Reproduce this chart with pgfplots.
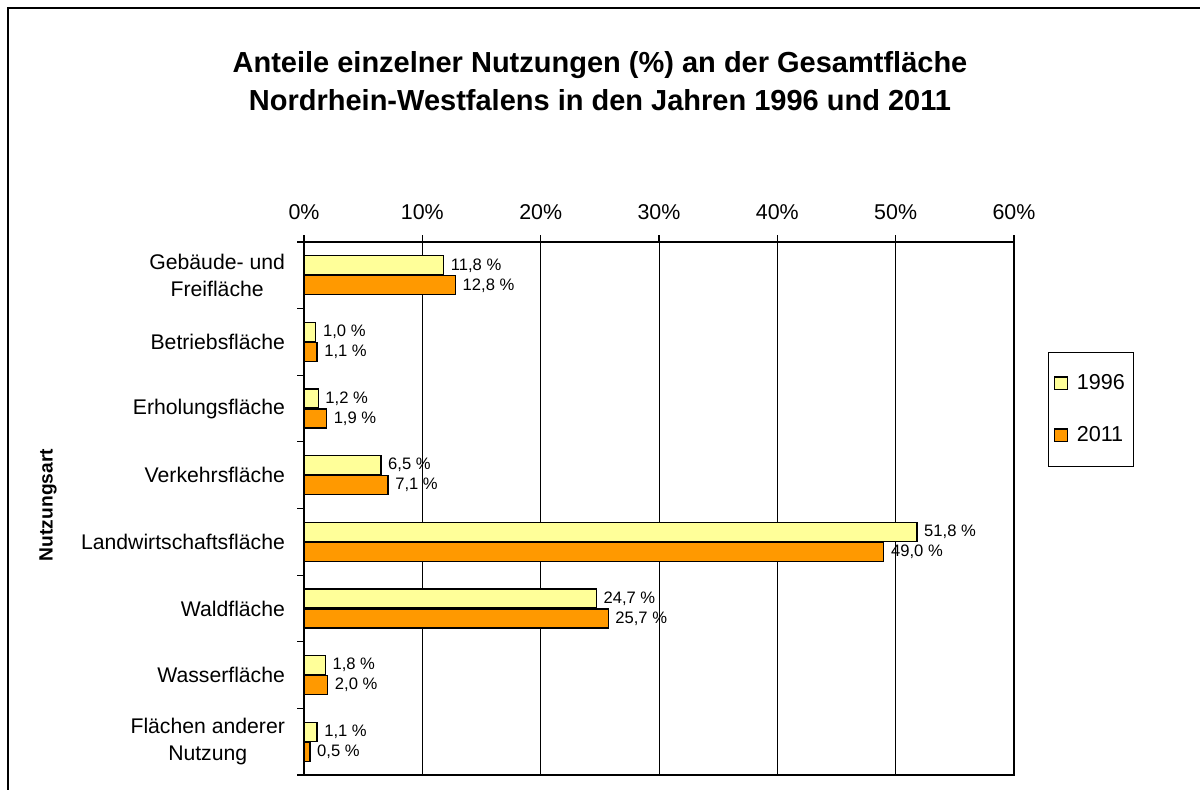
\documentclass[border=0pt]{standalone}
\usepackage{fontspec}
\setmainfont{Liberation Sans}
\usepackage{pgfplots}
\pgfplotsset{compat=1.18}
\definecolor{cA}{HTML}{FFFF99}
\definecolor{cB}{HTML}{FF9900}

\begin{document}
\begin{tikzpicture}
\useasboundingbox (0,0) rectangle (600pt,394.5pt);
\draw[line width=1pt] (4pt,-10pt) -- (4pt,390.5pt) -- (610pt,390.5pt);
\node[font=\bfseries\fontsize{14.5}{19}\selectfont, align=center] at (300pt,354pt) {Anteile einzelner Nutzungen (\%) an der Gesamtfläche\\Nordrhein-Westfalens in den Jahren 1996 und 2011};
\node[rotate=90, font=\bfseries\fontsize{9.6}{11}\selectfont] at (24pt,142pt) {Nutzungsart};
\begin{axis}[
  at={(152pt,7pt)}, anchor=south west,
  scale only axis, width=355pt, height=266.5pt,
  xbar, bar width=9.5pt,
  xmin=0, xmax=60, ymin=-0.5, ymax=7.5,
  clip=false,
  /pgf/number format/assume math mode=true,
  xtick={0,10,...,60},
  xtick pos=upper, xticklabel pos=upper,
  xticklabel={\pgfmathprintnumber{\tick}\%},
  xticklabel style={font=\fontsize{10.7}{12}\selectfont, yshift=4pt},
  ytick={-0.5,0.5,...,7.5},
  yticklabel=\empty,
  ytick pos=left,
  tick align=outside,
  major tick length=3.5pt,
  tick style={black, line width=0.6pt},
  xmajorgrids=true,
  grid style={black, line width=0.5pt},
  axis line style={line width=0.9pt},
  extra y ticks={0,1,2,3,4,5,6,7},
  extra y tick labels={{Flächen anderer\\Nutzung},Wasserfläche,Waldfläche,Landwirtschaftsfläche,Verkehrsfläche,Erholungsfläche,Betriebsfläche,{Gebäude- und\\Freifläche}},
  extra y tick style={major tick length=0pt, yticklabel style={align=center, font=\fontsize{10.6}{13.5}\selectfont, xshift=-6pt}},
  point meta=x,
  nodes near coords={\pgfmathprintnumber[fixed,fixed zerofill,precision=1,use comma]{\pgfplotspointmeta}~\%},
  nodes near coords style={font=\fontsize{8.3}{9}\selectfont, black},
  legend style={at={(1.048,0.794)}, anchor=north west, draw=black, line width=0.5pt, font=\fontsize{10.8}{12}\selectfont, row sep=13pt, inner xsep=2.5pt, inner ysep=9pt, cells={anchor=west}},
  legend image code/.code={\draw[#1, line width=0.6pt] (1pt,-3.2pt) rectangle (7.5pt,3.2pt); \path (10pt,0pt);},
]
\addplot[fill=cA, draw=black, line width=0.6pt, bar shift=5pt] coordinates {
(11.8,7) (1.0,6) (1.2,5) (6.5,4) (51.8,3) (24.7,2) (1.8,1) (1.1,0)};
\addplot[fill=cB, draw=black, line width=0.6pt, bar shift=-5pt] coordinates {
(12.8,7) (1.1,6) (1.9,5) (7.1,4) (49.0,3) (25.7,2) (2.0,1) (0.5,0)};
\legend{1996,2011}
\end{axis}
\end{tikzpicture}
\end{document}
